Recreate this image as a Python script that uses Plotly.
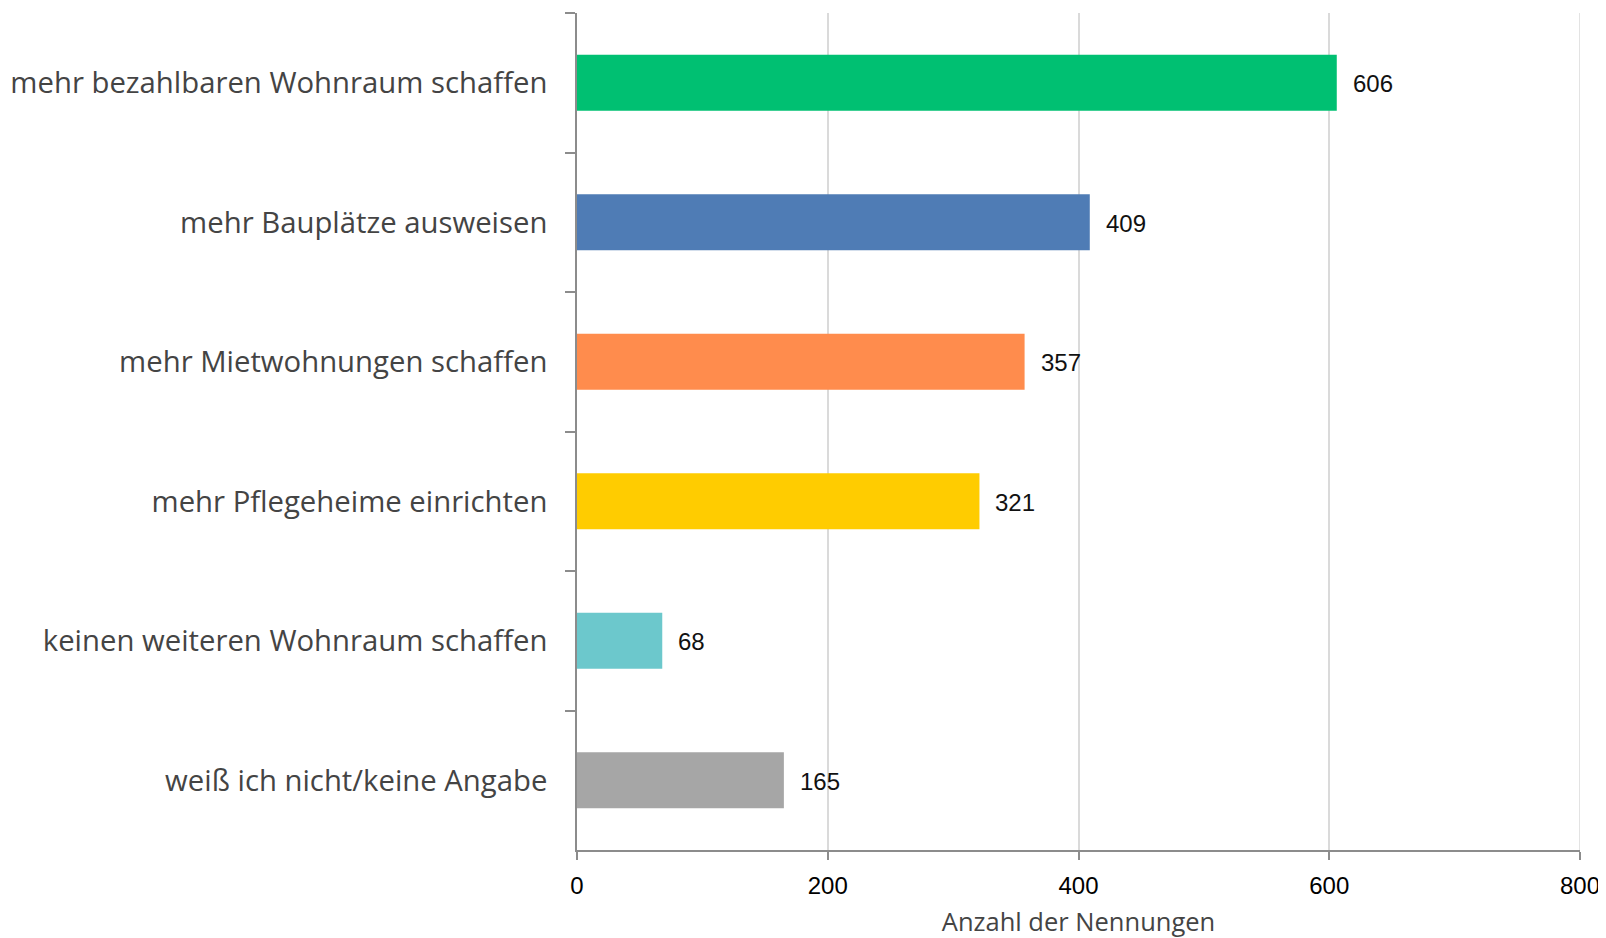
import plotly.graph_objects as go

categories = [
    "mehr bezahlbaren Wohnraum schaffen",
    "mehr Bauplätze ausweisen",
    "mehr Mietwohnungen schaffen",
    "mehr Pflegeheime einrichten",
    "keinen weiteren Wohnraum schaffen",
    "weiß ich nicht/keine Angabe",
]
values = [606, 409, 357, 321, 68, 165]
colors = ["#00C072", "#4F7CB5", "#FF8C4D", "#FFCC00", "#6CC8CC", "#A6A6A6"]
x_ticks = [0, 200, 400, 600, 800]
x_title = "Anzahl der Nennungen"

FONT = "Liberation Sans"
LABEL_FONT = "Open Sans"
GRID = "#DADADA"

fig = go.Figure()
fig.add_trace(go.Bar(
    x=values, y=categories, orientation="h",
    marker=dict(color=colors, line=dict(width=0)),
    width=0.4, hoverinfo="x+y",
))

for v, c in zip(values, categories):
    fig.add_annotation(
        x=v, y=c, text=str(v), showarrow=False,
        xanchor="left", yanchor="middle", xshift=14, yshift=-1,
        font=dict(family=FONT, size=24, color="#111111"),
    )

# gridline at the right end of the axis range (Plotly omits it at the edge)
fig.add_shape(
    type="line", xref="x", yref="paper",
    x0=x_ticks[-1], x1=x_ticks[-1], y0=0, y1=1,
    line=dict(color=GRID, width=1.5), layer="below",
)

# page body has an 8px margin; figure sized so plot area lands where the reference has it
fig.update_layout(
    width=1598, height=930,
    margin=dict(l=569, r=26, t=5, b=88, autoexpand=False),
    paper_bgcolor="white", plot_bgcolor="white",
    showlegend=False,
    font=dict(family=FONT),
    xaxis=dict(
        range=[0, 800], tickvals=x_ticks, ticktext=[str(t) for t in x_ticks],
        showgrid=True, gridcolor=GRID, gridwidth=1.5,
        zeroline=False,
        showline=True, linecolor="#8C8C8C", linewidth=1.5,
        ticks="outside", ticklen=8, tickcolor="#8C8C8C", tickwidth=1.5,
        tickfont=dict(family=FONT, size=24, color="#000000"),
        ticklabelstandoff=5,
        title=dict(text=x_title, font=dict(family=LABEL_FONT, size=25.5, color="#444444"), standoff=33),
        automargin=False,
    ),
    yaxis=dict(
        autorange="reversed", type="category",
        showgrid=False, zeroline=False,
        showline=True, linecolor="#8C8C8C", linewidth=1.5,
        ticks="outside", ticklen=10, tickcolor="#8C8C8C", tickwidth=1.5,
        tickson="boundaries",
        tickfont=dict(family=LABEL_FONT, size=29.3, color="#444444"),
        ticklabelstandoff=22,
        automargin=False,
    ),
    bargap=0.6,
)

fig.write_html("out.html")
